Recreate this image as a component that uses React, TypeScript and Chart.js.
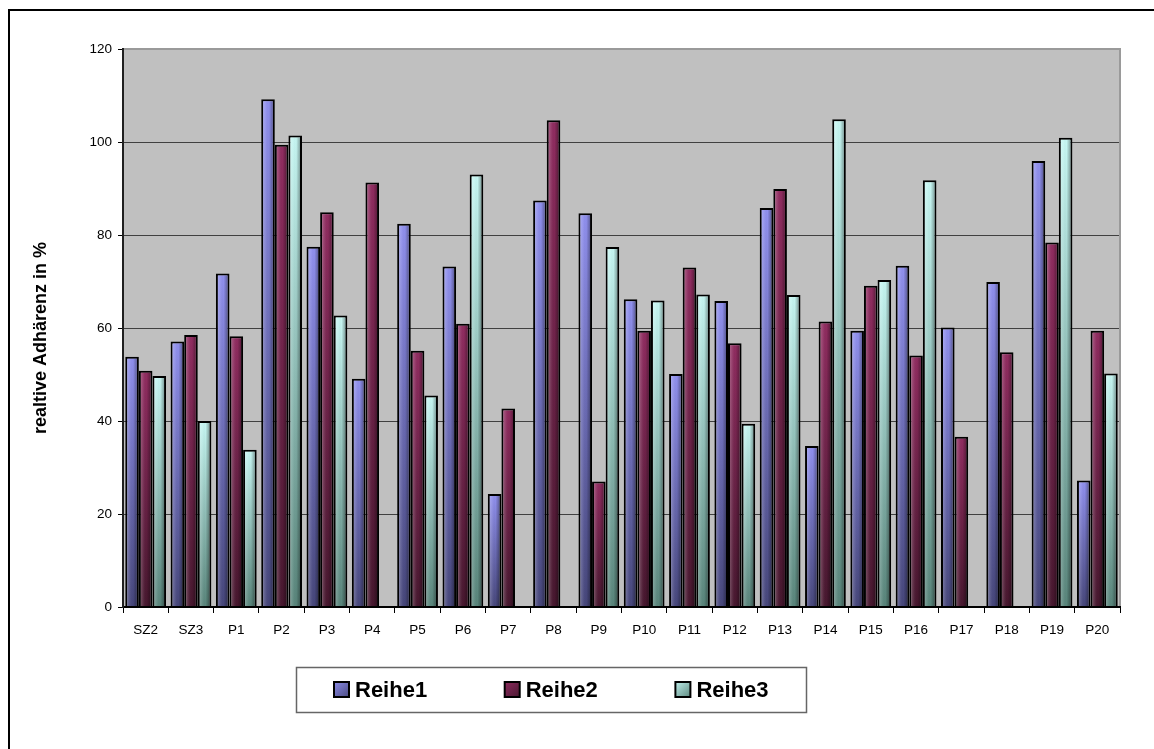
import React, { useEffect, useRef } from 'react';
import { Chart, registerables } from 'chart.js';

Chart.register(...registerables);

const categories = ['SZ2', 'SZ3', 'P1', 'P2', 'P3', 'P4', 'P5', 'P6', 'P7', 'P8', 'P9', 'P10', 'P11', 'P12', 'P13', 'P14', 'P15', 'P16', 'P17', 'P18', 'P19', 'P20'];
const reihe1 = [53.8, 57.1, 71.7, 109.2, 77.5, 49.1, 82.4, 73.2, 24.3, 87.4, 84.7, 66.2, 50.1, 65.8, 85.8, 34.6, 59.4, 73.4, 60.1, 69.9, 95.9, 27.2];
const reihe2 = [50.8, 58.5, 58.2, 99.4, 84.9, 91.3, 55.1, 60.9, 42.7, 104.7, 27.0, 59.4, 73.0, 56.7, 89.9, 61.4, 69.1, 54.1, 36.6, 54.8, 78.4, 59.4];
const reihe3 = [49.7, 40.0, 33.8, 101.4, 62.7, null, 45.5, 93.0, null, null, 77.4, 65.9, 67.2, 39.4, 67.1, 104.9, 70.3, 91.8, null, null, 100.9, 50.2];
const seriesLabels = ['Reihe1', 'Reihe2', 'Reihe3'];
const yTicks = [0, 20, 40, 60, 80, 100, 120];
const yTitle = 'realtive Adhärenz in %';

// gradient colours (top, bottom) per series
const seriesColors = [
  { top: '#9090ee', bottom: '#46467a' },
  { top: '#902c60', bottom: '#46172e' },
  { top: '#c6f6f2', bottom: '#58847a' },
];

const FONT = 'Arial, "Liberation Sans", sans-serif';

function makeBg(idx: number) {
  return (c: any) => {
    const col = seriesColors[idx];
    const chart = c.chart;
    if (!chart.chartArea || c.type !== 'data' || c.raw == null) return col.top;
    const ys = chart.scales.y;
    const v = c.parsed ? c.parsed.y : c.raw;
    const yTop = ys.getPixelForValue(v);
    const yBot = ys.getPixelForValue(0);
    const g = chart.ctx.createLinearGradient(0, yTop, 0, yBot);
    g.addColorStop(0, col.top);
    g.addColorStop(1, col.bottom);
    return g;
  };
}

const framePlugin = {
  id: 'frameBg',
  beforeDraw(chart: any) {
    const { ctx, chartArea: a } = chart;
    ctx.save();
    ctx.fillStyle = '#ffffff';
    ctx.fillRect(0, 0, chart.width, chart.height);
    ctx.fillStyle = '#000000';
    ctx.fillRect(8, 9, chart.width - 8, 2);
    ctx.fillRect(8, 9, 2, chart.height - 9);
    ctx.fillStyle = '#c0c0c0';
    ctx.fillRect(a.left, a.top, a.right - a.left, a.bottom - a.top);
    ctx.restore();
  },
  beforeDatasetsDraw(chart: any) {
    const { ctx, chartArea: a } = chart;
    ctx.save();
    ctx.fillStyle = '#9a9a9a';
    ctx.fillRect(a.left, a.top - 1, a.right - a.left + 1, 2);
    ctx.fillRect(a.right - 1, a.top - 1, 2, a.bottom - a.top + 1);
    ctx.restore();
  },
  afterDraw(chart: any) {
    const ctx = chart.ctx;
    ctx.save();
    ctx.translate(41, 338);
    ctx.rotate(-Math.PI / 2);
    ctx.fillStyle = '#000000';
    ctx.font = 'bold 18px ' + FONT;
    ctx.textAlign = 'center';
    ctx.textBaseline = 'middle';
    ctx.fillText(yTitle, 0, 0);
    ctx.restore();
  },
};

const shadePlugin = {
  id: 'barShade',
  afterDatasetsDraw(chart: any) {
    const ctx = chart.ctx;
    ctx.save();
    chart.data.datasets.forEach((ds: any, di: number) => {
      const meta = chart.getDatasetMeta(di);
      meta.data.forEach((el: any, i: number) => {
        if (ds.data[i] == null) return;
        const p = el.getProps(['x', 'y', 'base', 'width'], true);
        const l = p.x - p.width / 2 + 2;
        const r = p.x + p.width / 2 - 2;
        if (r <= l) return;
        const g = ctx.createLinearGradient(l, 0, r, 0);
        g.addColorStop(0, 'rgba(255,255,255,0.22)');
        g.addColorStop(0.3, 'rgba(255,255,255,0.06)');
        g.addColorStop(0.6, 'rgba(0,0,0,0)');
        g.addColorStop(1, 'rgba(0,0,0,0.32)');
        ctx.fillStyle = g;
        ctx.fillRect(l, p.y + 2, r - l, p.base - p.y - 2);
      });
    });
    ctx.restore();
  },
};

const legendPlugin = {
  id: 'boxLegend',
  afterDraw(chart: any) {
    const ctx = chart.ctx;
    ctx.save();
    const bx = 296, by = 667, bw = 510, bh = 45;
    ctx.fillStyle = '#ffffff';
    ctx.fillRect(bx, by, bw, bh);
    ctx.strokeStyle = '#666666';
    ctx.lineWidth = 1.5;
    ctx.strokeRect(bx + 0.5, by + 0.5, bw, bh);
    chart.data.datasets.forEach((ds: any, i: number) => {
      const sx = 333 + i * 170.7;
      const sy = 681;
      const s = 17;
      const col = seriesColors[i];
      ctx.fillStyle = '#000000';
      ctx.fillRect(sx, sy, s, s);
      const g = ctx.createLinearGradient(sx, sy, sx + s, sy + s);
      g.addColorStop(0, col.top);
      g.addColorStop(1, col.bottom);
      ctx.fillStyle = g;
      ctx.fillRect(sx + 2, sy + 2, s - 4, s - 4);
      ctx.fillStyle = '#000000';
      ctx.font = 'bold 22px ' + FONT;
      ctx.textBaseline = 'middle';
      ctx.textAlign = 'left';
      ctx.fillText(ds.label, sx + 22, sy + s / 2 + 1);
    });
    ctx.restore();
  },
};

export default function App() {
  const ref = useRef<HTMLCanvasElement | null>(null);

  useEffect(() => {
    if (!ref.current) return;
    const seriesData = [reihe1, reihe2, reihe3];
    const chart = new Chart(ref.current, {
      type: 'bar',
      data: {
        labels: categories,
        datasets: seriesData.map((d, i) => ({
          label: seriesLabels[i],
          data: d,
          backgroundColor: makeBg(i),
          borderColor: '#000000',
          borderWidth: 2,
          borderSkipped: 'start',
          categoryPercentage: 0.9,
          barPercentage: 1.0,
        })),
      },
      options: {
        animation: false,
        responsive: false,
        devicePixelRatio: 1,
        layout: { padding: { left: 0, right: 34, top: 49, bottom: 0 } },
        plugins: {
          legend: { display: false },
          tooltip: { enabled: false },
          title: { display: false },
        },
        scales: {
          x: {
            type: 'category',
            offset: true,
            afterFit: (s: any) => { s.height = 142; },
            grid: {
              offset: true,
              drawOnChartArea: false,
              drawTicks: true,
              tickLength: 6,
              tickColor: '#000000',
              color: '#000000',
            },
            border: { display: true, color: '#000000', width: 2, z: 1 },
            ticks: {
              autoSkip: false,
              maxRotation: 0,
              minRotation: 0,
              padding: 9,
              color: '#000000',
              font: { family: FONT, size: 13.5 },
            },
          },
          y: {
            min: yTicks[0],
            max: yTicks[yTicks.length - 1],
            afterFit: (s: any) => { s.width = 123; },
            ticks: {
              stepSize: yTicks[1] - yTicks[0],
              padding: 6,
              color: '#000000',
              font: { family: FONT, size: 13.5 },
            },
            grid: {
              color: (c: any) => (c.tick && c.tick.value === yTicks[yTicks.length - 1] ? 'rgba(0,0,0,0)' : '#404040'),
              lineWidth: 1,
              tickLength: 5,
              tickColor: '#000000',
            },
            border: { display: true, color: '#202020', width: 2, z: 1 },
            title: { display: false },
          },
        },
      },
      plugins: [framePlugin, shadePlugin, legendPlugin],
    } as any);
    return () => chart.destroy();
  }, []);

  return (
    <canvas
      ref={ref}
      width={1154}
      height={749}
      style={{ position: 'fixed', left: 0, top: 0, width: 1154, height: 749, display: 'block' }}
    />
  );
}
